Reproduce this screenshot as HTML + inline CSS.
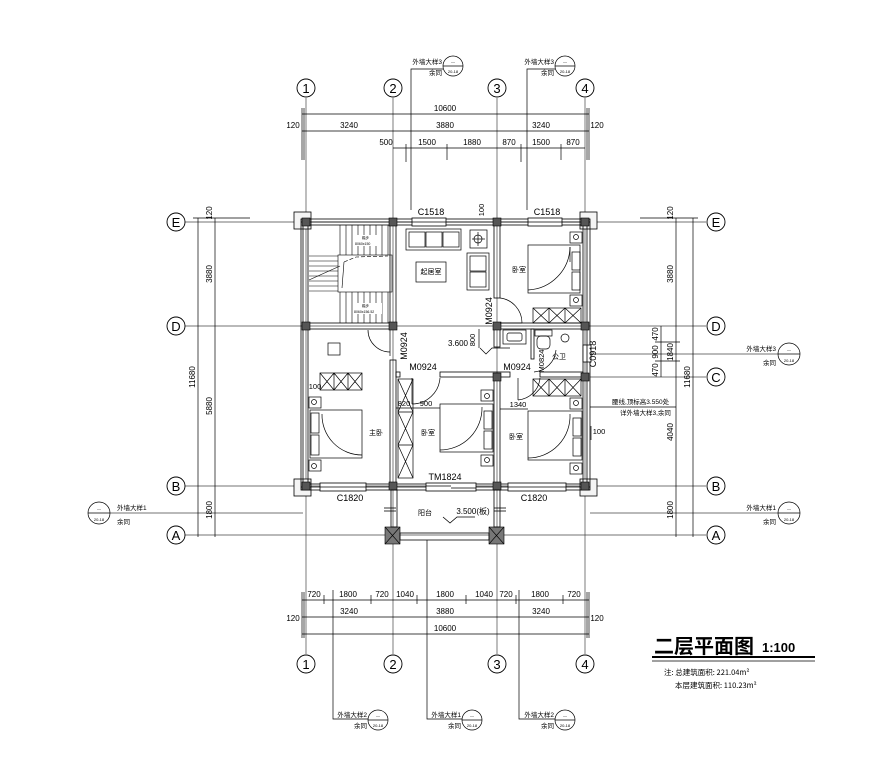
<!DOCTYPE html>
<html><head><meta charset="utf-8"><style>
html,body{margin:0;padding:0;background:#fff;width:896px;height:760px;overflow:hidden}
svg{display:block}
text{font-family:"Liberation Sans","Noto Sans CJK SC",sans-serif;fill:#000}
.c{font-family:"Noto Sans CJK SC","WenQuanYi Zen Hei",sans-serif}
</style></head><body>
<svg width="896" height="760" viewBox="0 0 896 760" xmlns="http://www.w3.org/2000/svg" fill="none" stroke="#000" stroke-width="0.8">
<g stroke="#444" stroke-width="0.7">
<line x1="306" y1="98" x2="306" y2="654"/><line x1="393" y1="98" x2="393" y2="654"/>
<line x1="497" y1="98" x2="497" y2="654"/><line x1="585" y1="98" x2="585" y2="654"/>
<line x1="185" y1="222" x2="706" y2="222"/><line x1="185" y1="326" x2="706" y2="326"/>
<line x1="590" y1="377" x2="706" y2="377"/><line x1="185" y1="486" x2="706" y2="486"/>
<line x1="185" y1="535" x2="706" y2="535"/>
<line x1="110" y1="513" x2="303" y2="513"/><line x1="590" y1="513" x2="778" y2="513"/>
<line x1="590" y1="354" x2="778" y2="354"/>
</g>
<g stroke-width="0.9">
<circle cx="306" cy="88" r="9"/><circle cx="393" cy="88" r="9"/><circle cx="497" cy="88" r="9"/><circle cx="585" cy="88" r="9"/>
<circle cx="306" cy="664" r="9"/><circle cx="393" cy="664" r="9"/><circle cx="497" cy="664" r="9"/><circle cx="585" cy="664" r="9"/>
<circle cx="176" cy="222" r="9"/><circle cx="176" cy="326" r="9"/><circle cx="176" cy="486" r="9"/><circle cx="176" cy="535" r="9"/>
<circle cx="716" cy="222" r="9"/><circle cx="716" cy="326" r="9"/><circle cx="716" cy="377" r="9"/><circle cx="716" cy="486" r="9"/><circle cx="716" cy="535" r="9"/>
</g>
<g font-size="13" text-anchor="middle" stroke="none" style="font-family:'Liberation Serif',serif">
<text x="306" y="93">1</text><text x="393" y="93">2</text><text x="497" y="93">3</text><text x="585" y="93">4</text>
<text x="306" y="669">1</text><text x="393" y="669">2</text><text x="497" y="669">3</text><text x="585" y="669">4</text>
<text x="176" y="227">E</text><text x="176" y="331">D</text><text x="176" y="491">B</text><text x="176" y="540">A</text>
<text x="716" y="227">E</text><text x="716" y="331">D</text><text x="716" y="382">C</text><text x="716" y="491">B</text><text x="716" y="540">A</text>
</g>
<g stroke-width="0.7">
<line x1="302" y1="114" x2="589" y2="114"/><line x1="302" y1="131" x2="589" y2="131"/><line x1="393" y1="148" x2="585" y2="148"/>
<line x1="302" y1="108" x2="302" y2="160"/><line x1="304" y1="108" x2="304" y2="160"/><line x1="589" y1="108" x2="589" y2="160"/><line x1="587" y1="108" x2="587" y2="160"/>
<line x1="406" y1="144" x2="406" y2="162"/><line x1="447" y1="144" x2="447" y2="160"/><line x1="521" y1="144" x2="521" y2="162"/><line x1="561" y1="144" x2="561" y2="160"/>
<line x1="302" y1="600" x2="589" y2="600"/><line x1="302" y1="617" x2="589" y2="617"/><line x1="302" y1="634" x2="589" y2="634"/>
<line x1="302" y1="592" x2="302" y2="638"/><line x1="304" y1="592" x2="304" y2="638"/><line x1="589" y1="592" x2="589" y2="638"/><line x1="587" y1="592" x2="587" y2="638"/>
<line x1="324" y1="595" x2="324" y2="604"/><line x1="371" y1="595" x2="371" y2="604"/><line x1="417" y1="595" x2="417" y2="604"/><line x1="466" y1="595" x2="466" y2="604"/><line x1="516" y1="595" x2="516" y2="604"/><line x1="563" y1="595" x2="563" y2="604"/>
<line x1="198" y1="218" x2="198" y2="537"/><line x1="215" y1="218" x2="215" y2="537"/>
<line x1="193" y1="218" x2="250" y2="218"/>
<line x1="676" y1="218" x2="676" y2="537"/><line x1="693" y1="218" x2="693" y2="537"/>
<line x1="640" y1="218" x2="698" y2="218"/><line x1="655" y1="342" x2="680" y2="342"/><line x1="655" y1="361" x2="680" y2="361"/>
<line x1="661" y1="326" x2="661" y2="377"/>
</g>
<g font-size="8" stroke="none" text-anchor="middle">
<text x="445" y="111">10600</text><text x="293" y="128">120</text><text x="349" y="128">3240</text><text x="445" y="128">3880</text><text x="541" y="128">3240</text><text x="597" y="128">120</text>
<text x="386" y="145">500</text><text x="427" y="145">1500</text><text x="472" y="145">1880</text><text x="509" y="145">870</text><text x="541" y="145">1500</text><text x="573" y="145">870</text>
<text x="314" y="597">720</text><text x="348" y="597">1800</text><text x="382" y="597">720</text><text x="405" y="597">1040</text><text x="445" y="597">1800</text><text x="484" y="597">1040</text><text x="506" y="597">720</text><text x="540" y="597">1800</text><text x="574" y="597">720</text>
<text x="293" y="621">120</text><text x="349" y="614">3240</text><text x="445" y="614">3880</text><text x="541" y="614">3240</text><text x="597" y="621">120</text>
<text x="445" y="631">10600</text>
<text transform="translate(212,213) rotate(-90)">120</text><text transform="translate(212,274) rotate(-90)">3880</text><text transform="translate(212,406) rotate(-90)">5880</text><text transform="translate(212,510) rotate(-90)">1800</text><text transform="translate(195,377) rotate(-90)">11680</text>
<text transform="translate(673,213) rotate(-90)">120</text><text transform="translate(673,274) rotate(-90)">3880</text><text transform="translate(673,352) rotate(-90)">1840</text><text transform="translate(673,432) rotate(-90)">4040</text><text transform="translate(673,510) rotate(-90)">1800</text><text transform="translate(690,377) rotate(-90)">11680</text>
<text transform="translate(658,334) rotate(-90)">470</text><text transform="translate(658,352) rotate(-90)">900</text><text transform="translate(658,370) rotate(-90)">470</text>
</g>
<g stroke-width="0.7">
<polyline points="411,210 411,69 443,69"/><circle cx="453" cy="66" r="10"/><line x1="443" y1="66" x2="463" y2="66"/>
<polyline points="527,210 527,69 555,69"/><circle cx="565" cy="66" r="10"/><line x1="555" y1="66" x2="575" y2="66"/>
<polyline points="333,590 333,719 368,719"/><circle cx="378" cy="720" r="10"/><line x1="368" y1="720" x2="388" y2="720"/>
<polyline points="427,540 427,719 462,719"/><circle cx="472" cy="720" r="10"/><line x1="462" y1="720" x2="482" y2="720"/>
<polyline points="519,590 519,719 555,719"/><circle cx="565" cy="720" r="10"/><line x1="555" y1="720" x2="575" y2="720"/>
<circle cx="99" cy="513" r="11"/><line x1="88" y1="513" x2="110" y2="513"/>
<circle cx="789" cy="513" r="11"/><line x1="778" y1="513" x2="800" y2="513"/>
<circle cx="789" cy="354" r="11"/><line x1="778" y1="354" x2="800" y2="354"/>
<line x1="590" y1="407" x2="676" y2="407"/>
</g>
<g font-size="4" stroke="none" text-anchor="middle">
<text x="453" y="63">—</text><text x="453" y="73">20-18</text><text x="565" y="63">—</text><text x="565" y="73">20-18</text>
<text x="378" y="717">—</text><text x="378" y="727">20-18</text><text x="472" y="717">—</text><text x="472" y="727">20-18</text><text x="565" y="717">—</text><text x="565" y="727">20-18</text>
<text x="99" y="510">—</text><text x="99" y="521">20-18</text><text x="789" y="510">—</text><text x="789" y="521">20-18</text><text x="789" y="351">—</text><text x="789" y="362">20-18</text>
</g>
<g font-size="6.5" stroke="none" class="c" text-anchor="end">
<text x="442" y="64">外墙大样3</text><text x="442" y="75">余同</text>
<text x="554" y="64">外墙大样3</text><text x="554" y="75">余同</text>
<text x="367" y="717">外墙大样2</text><text x="367" y="728">余同</text>
<text x="461" y="717">外墙大样1</text><text x="461" y="728">余同</text>
<text x="554" y="717">外墙大样2</text><text x="554" y="728">余同</text>
<text x="776" y="510">外墙大样1</text><text x="776" y="524">余同</text>
<text x="776" y="351">外墙大样3</text><text x="776" y="365">余同</text>
</g>
<g font-size="6.5" stroke="none" class="c">
<text x="117" y="510">外墙大样1</text><text x="117" y="524">余同</text>
<text x="612" y="404">腰线,顶标高3.550处</text><text x="620" y="415">详外墙大样3,余同</text>
</g>
<g fill="#f4f4f4" stroke-width="0.8">
<rect x="294" y="212" width="17" height="17"/><rect x="580" y="212" width="17" height="17"/>
<rect x="294" y="479" width="17" height="17"/><rect x="580" y="479" width="17" height="17"/>
</g>
<g stroke-width="0.8">
<rect x="301" y="219" width="289" height="271" fill="none"/>
<rect x="308" y="225" width="275" height="259" fill="none"/>
<line x1="303" y1="219" x2="303" y2="490"/><line x1="587" y1="219" x2="587" y2="490"/>
<line x1="301" y1="222" x2="590" y2="222"/><line x1="301" y1="487" x2="590" y2="487"/>
<rect x="390" y="225" width="6" height="101"/><rect x="390" y="360" width="6" height="124"/>
<rect x="494" y="225" width="6" height="73"/><rect x="494" y="326" width="6" height="21"/><rect x="494" y="375" width="6" height="109"/>
<rect x="308" y="323" width="85" height="6"/><rect x="497" y="323" width="86" height="6"/>
<rect x="396" y="372" width="4" height="5"/><rect x="440" y="372" width="70" height="5"/><rect x="540" y="372" width="43" height="5"/>
<rect x="531" y="329" width="3" height="30"/>
<g fill="#fff"><rect x="412" y="218" width="34" height="8"/><rect x="528" y="218" width="34" height="8"/>
<rect x="320" y="483" width="46" height="8"/><rect x="426" y="483" width="50" height="8"/><rect x="508" y="483" width="58" height="8"/>
<rect x="583" y="345" width="8" height="17"/></g>
<line x1="412" y1="222" x2="446" y2="222"/><line x1="528" y1="222" x2="562" y2="222"/><line x1="320" y1="487" x2="366" y2="487"/><line x1="508" y1="487" x2="566" y2="487"/><line x1="587" y1="345" x2="587" y2="362"/>
<line x1="426" y1="486" x2="451" y2="486"/><line x1="451" y1="488" x2="476" y2="488"/>
</g>
<g fill="#555" stroke="#000" stroke-width="0.6">
<rect x="302" y="218" width="8" height="8"/><rect x="389" y="218" width="8" height="8"/><rect x="493" y="218" width="8" height="8"/><rect x="581" y="218" width="8" height="8"/>
<rect x="302" y="322" width="8" height="8"/><rect x="389" y="322" width="8" height="8"/><rect x="493" y="322" width="8" height="8"/><rect x="581" y="322" width="8" height="8"/>
<rect x="493" y="373" width="8" height="8"/><rect x="581" y="373" width="8" height="8"/>
<rect x="302" y="482" width="8" height="8"/><rect x="389" y="482" width="8" height="8"/><rect x="493" y="482" width="8" height="8"/><rect x="581" y="482" width="8" height="8"/>
</g>
<g fill="#777" stroke="#000" stroke-width="0.6">
<rect x="385" y="527" width="15" height="17"/><rect x="489" y="527" width="15" height="17"/>
<path d="M385 527 L400 544 M400 527 L385 544 M489 527 L504 544 M504 527 L489 544"/>
</g>
<g stroke-width="0.8">
<rect x="391" y="490" width="6" height="37"/><rect x="494" y="490" width="6" height="37"/>
<rect x="400" y="533" width="89" height="7"/>
<line x1="384" y1="508" x2="396" y2="508"/><line x1="384" y1="511" x2="396" y2="511"/><line x1="494" y1="508" x2="506" y2="508"/><line x1="494" y1="511" x2="506" y2="511"/>
<polyline points="443,517 450,523 457,517 475,517"/>
</g>
<g stroke-width="0.6">
<rect x="338" y="255" width="54" height="37"/>
<path d="M344 262 L356 257 L388 256" stroke-dasharray="4 2"/>
<path d="M344 262 L342 288"/>
<line x1="309" y1="256" x2="338" y2="256"/>
<line x1="309" y1="261" x2="338" y2="261"/><line x1="309" y1="266" x2="338" y2="266"/><line x1="309" y1="271" x2="338" y2="271"/><line x1="309" y1="276" x2="338" y2="276"/><line x1="309" y1="281" x2="338" y2="281"/><line x1="309" y1="286" x2="338" y2="286"/><line x1="309" y1="291" x2="338" y2="291"/>
<line x1="340" y1="225" x2="340" y2="255"/><line x1="346" y1="225" x2="346" y2="255"/><line x1="352" y1="225" x2="352" y2="255"/><line x1="358" y1="225" x2="358" y2="255"/><line x1="364" y1="225" x2="364" y2="255"/><line x1="370" y1="225" x2="370" y2="255"/><line x1="376" y1="225" x2="376" y2="255"/><line x1="382" y1="225" x2="382" y2="255"/><line x1="388" y1="225" x2="388" y2="255"/>
<line x1="340" y1="292" x2="340" y2="323"/><line x1="346" y1="292" x2="346" y2="323"/><line x1="352" y1="292" x2="352" y2="323"/><line x1="358" y1="292" x2="358" y2="323"/><line x1="364" y1="292" x2="364" y2="323"/><line x1="370" y1="292" x2="370" y2="323"/><line x1="376" y1="292" x2="376" y2="323"/><line x1="382" y1="292" x2="382" y2="323"/><line x1="388" y1="292" x2="388" y2="323"/>
<line x1="309" y1="280" x2="340" y2="266"/>
</g>
<g fill="#fff" stroke="none"><rect x="354" y="235" width="26" height="11"/><rect x="354" y="303" width="28" height="11"/></g>
<g font-size="3.5" stroke="none" class="c"><text x="362" y="239">踏步</text><text x="355" y="245">8060x150</text><text x="362" y="307">踏步</text><text x="354" y="313">8060x156.52</text></g>
<g stroke-width="0.7">
<rect x="406" y="229" width="55" height="21"/><rect x="409" y="232" width="16" height="15"/><rect x="426" y="232" width="16" height="15"/><rect x="443" y="232" width="16" height="15"/>
<rect x="467" y="253" width="22" height="37"/><rect x="470" y="256" width="16" height="15"/><rect x="470" y="272" width="16" height="15"/>
<rect x="416" y="262" width="30" height="20"/>
<rect x="470" y="230" width="17" height="18"/><circle cx="478" cy="239" r="4"/><line x1="472" y1="239" x2="485" y2="239"/><line x1="478" y1="232" x2="478" y2="246"/>
<rect x="503" y="330" width="23" height="14"/><rect x="507" y="333" width="15" height="8" rx="2"/>
<rect x="535" y="330" width="17" height="6"/><rect x="537" y="336" width="13" height="13" rx="4"/>
<circle cx="565" cy="338" r="4"/>
<path d="M500 298 A25 25 0 0 1 522 323"/><line x1="500" y1="323" x2="522" y2="323"/>
<path d="M368 330 A22 22 0 0 0 390 352"/><line x1="390" y1="330" x2="390" y2="356"/>
<path d="M440 378 A28 28 0 0 1 412 404"/><line x1="412" y1="378" x2="412" y2="404"/>
<path d="M540 378 A24 24 0 0 1 518 400"/><line x1="518" y1="378" x2="518" y2="400"/>
<path d="M534 372 A24 24 0 0 0 556 350"/>
<rect x="528" y="245" width="52" height="48"/><rect x="572" y="252" width="8" height="18"/><rect x="572" y="272" width="8" height="18"/><path d="M528 290 A44 44 0 0 0 570 247"/><line x1="570" y1="247" x2="570" y2="262"/>
<rect x="570" y="232" width="12" height="11"/><circle cx="576" cy="237" r="2.5"/><rect x="570" y="295" width="12" height="11"/><circle cx="576" cy="300" r="2.5"/>
<rect x="310" y="410" width="52" height="48"/><rect x="311" y="413" width="8" height="20"/><rect x="311" y="435" width="8" height="20"/><path d="M362 455 A40 40 0 0 1 322 414"/>
<rect x="309" y="397" width="12" height="11"/><circle cx="314" cy="402" r="2.5"/><rect x="309" y="460" width="12" height="11"/><circle cx="314" cy="466" r="2.5"/>
<rect x="440" y="404" width="53" height="48"/><rect x="484" y="411" width="8" height="18"/><rect x="484" y="431" width="8" height="18"/><path d="M440 450 A42 42 0 0 0 482 407"/>
<rect x="481" y="390" width="12" height="11"/><circle cx="487" cy="396" r="2.5"/><rect x="481" y="455" width="12" height="11"/><circle cx="487" cy="460" r="2.5"/>
<rect x="528" y="411" width="54" height="49"/><rect x="573" y="418" width="8" height="18"/><rect x="573" y="438" width="8" height="18"/><path d="M528 458 A42 42 0 0 0 570 414"/>
<rect x="570" y="398" width="12" height="11"/><circle cx="576" cy="403" r="2.5"/><rect x="570" y="463" width="12" height="11"/><circle cx="576" cy="468" r="2.5"/>
<rect x="328" y="343" width="12" height="12"/>
<rect x="533" y="308" width="48" height="15"/><path d="M533 308 L549 323 M549 308 L533 323 M549 308 L565 323 M565 308 L549 323 M565 308 L581 323 M581 308 L565 323 M549 308 V323 M565 308 V323"/>
<rect x="320" y="373" width="42" height="17"/><path d="M320 373 L334 390 M334 373 L320 390 M334 373 L348 390 M348 373 L334 390 M348 373 L362 390 M362 373 L348 390 M334 373 V390 M348 373 V390"/>
<rect x="533" y="379" width="48" height="17"/><path d="M533 379 L549 396 M549 379 L533 396 M549 379 L565 396 M565 379 L549 396 M565 379 L581 396 M581 379 L565 396 M549 379 V396 M565 379 V396"/>
<rect x="398" y="379" width="15" height="99"/><path d="M398 379 L413 412 M413 379 L398 412 M398 412 L413 445 M413 412 L398 445 M398 445 L413 478 M413 445 L398 478 M398 412 H413 M398 445 H413"/>
<line x1="396" y1="408" x2="440" y2="408"/><line x1="500" y1="409" x2="528" y2="409"/>
<polyline points="480,348 486,354 492,348 510,348"/>
<line x1="479" y1="329" x2="479" y2="348"/>
<line x1="591" y1="426" x2="591" y2="440"/>
</g>
<g font-size="9" stroke="none" text-anchor="middle">
<text x="431" y="215">C1518</text><text x="547" y="215">C1518</text>
<text x="445" y="480">TM1824</text><text x="350" y="501">C1820</text><text x="534" y="501">C1820</text>
<text x="423" y="370">M0924</text><text x="517" y="370">M0924</text>
<text transform="translate(492,311) rotate(-90)">M0924</text><text transform="translate(407,346) rotate(-90)">M0924</text>
<text transform="translate(596,354) rotate(-90)">C0918</text>
<text x="458" y="346" font-size="8">3.600</text><text x="473" y="514" font-size="8">3.500(板)</text>
</g>
<g font-size="7.5" stroke="none" text-anchor="middle">
<text transform="translate(484,210) rotate(-90)">100</text><text transform="translate(475,340) rotate(-90)">800</text>
<text transform="translate(544,361) rotate(-90)">M0824</text>
<text x="404" y="406">820</text><text x="426" y="406">900</text><text x="518" y="407">1340</text>
<text x="315" y="389">100</text><text x="599" y="434">100</text>
</g>
<g font-size="7" stroke="none" class="c" text-anchor="middle">
<text x="431" y="274">起居室</text><text x="519" y="272">卧室</text><text x="376" y="435">主卧</text><text x="428" y="435">卧室</text><text x="516" y="439">卧室</text><text x="559" y="359">公卫</text><text x="425" y="515">阳台</text>
</g>
<text x="654" y="653" font-size="20" font-weight="bold" stroke="none" class="c">二层平面图</text>
<text x="762" y="652" font-size="13" font-weight="bold" stroke="none">1:100</text>
<line x1="652" y1="657" x2="815" y2="657" stroke-width="2"/><line x1="652" y1="661" x2="815" y2="661" stroke-width="0.8"/>
<text x="664" y="675" font-size="7.5" stroke="none" class="c">注: 总建筑面积: 221.04m²</text>
<text x="675" y="688" font-size="7.5" stroke="none" class="c">本层建筑面积: 110.23m²</text>
</svg>
</body></html>
